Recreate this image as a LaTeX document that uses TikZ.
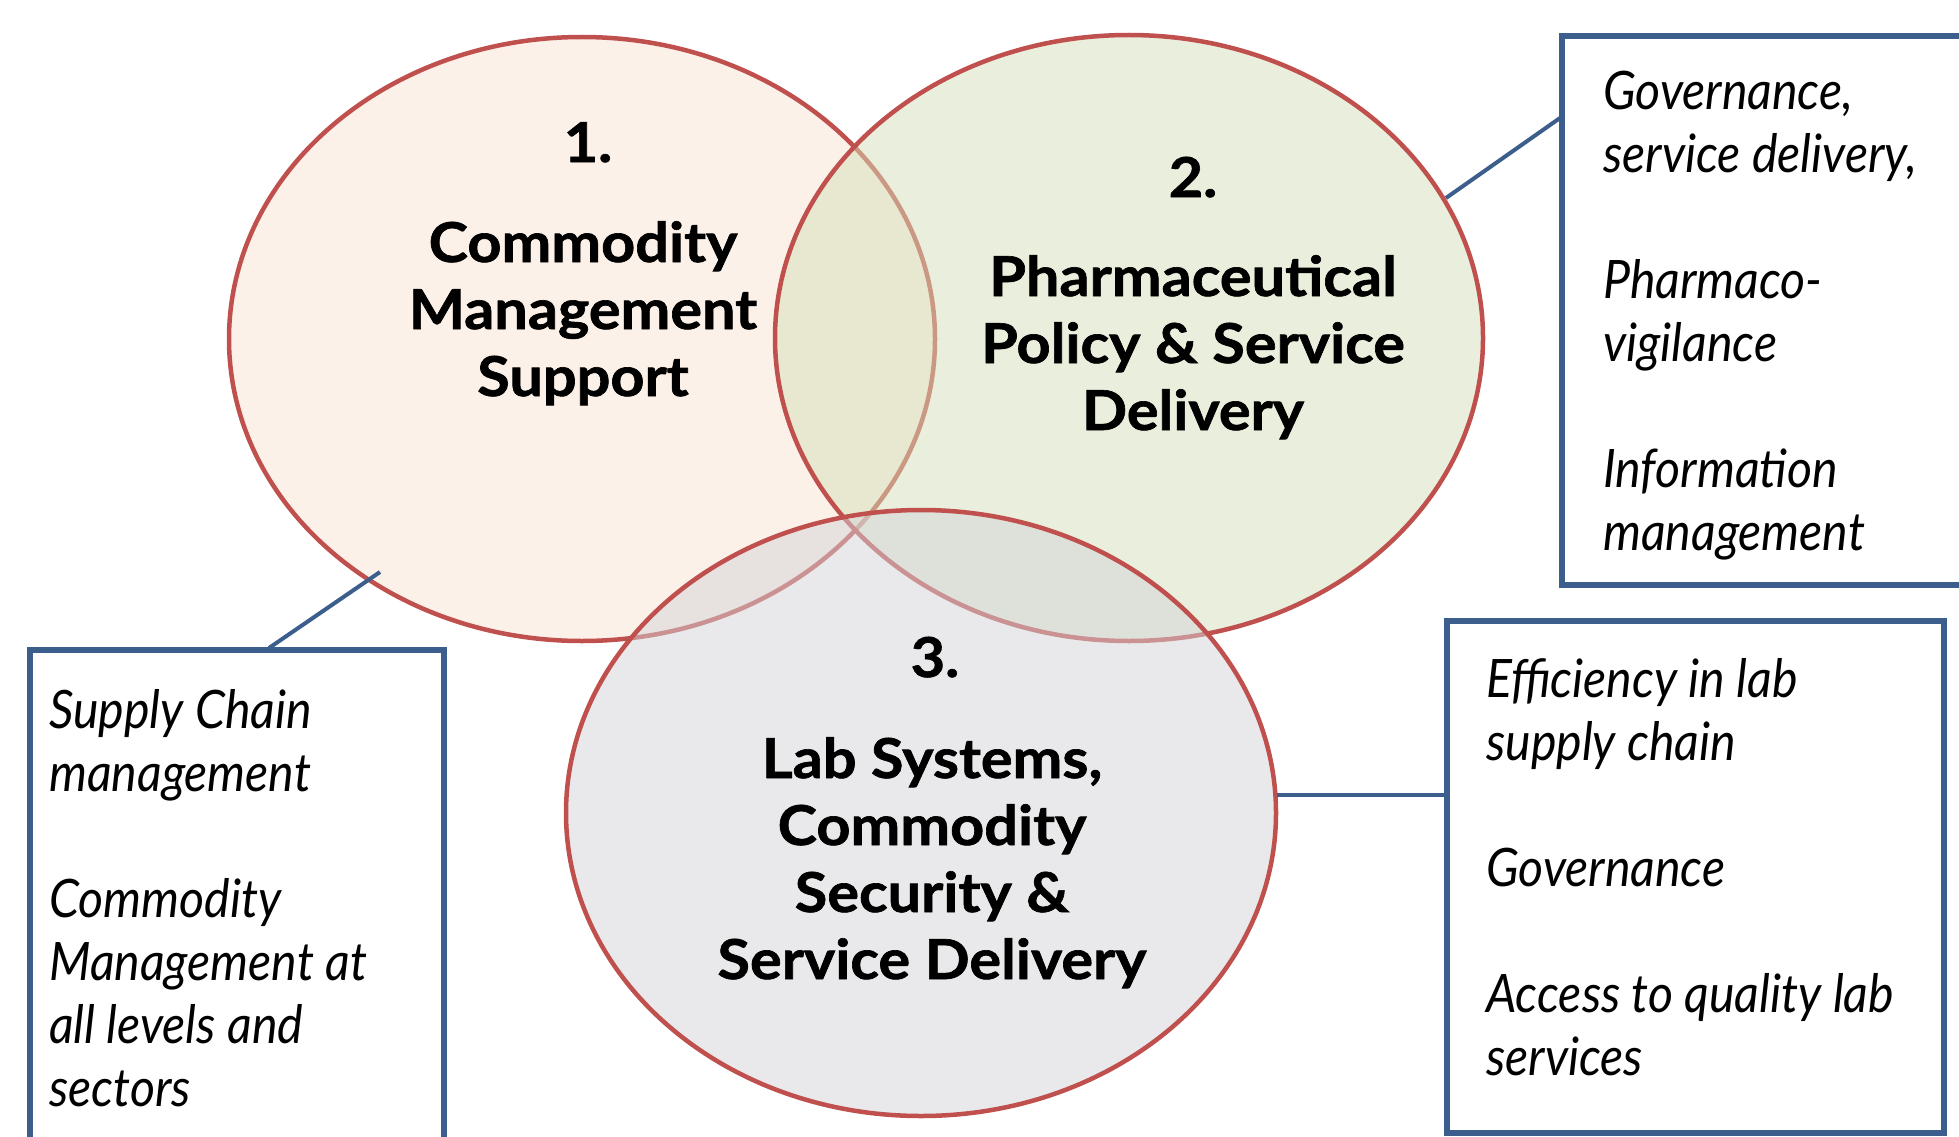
\documentclass[tikz,border=0pt]{standalone}
\usepackage{fontspec}
\setmainfont{Lato}
\newfontfamily\circfont{Lato}[FakeStretch=1.08, FakeBold=1.2]
\newfontfamily\boxfont{Lato}[FakeStretch=0.91]
\definecolor{redline}{HTML}{C0504D}
\definecolor{fillA}{RGB}{251,229,211}
\definecolor{fillB}{RGB}{213,225,186}
\definecolor{fillC}{RGB}{212,212,216}
\definecolor{boxblue}{HTML}{3B5E8C}
\tikzset{
  venn/.style={draw=redline, line width=4.5pt, fill opacity=0.5},
  infobox/.style={draw=boxblue, line width=5.5pt},
  link/.style={draw=boxblue, line width=4pt},
  ctext/.style={anchor=base, inner sep=0pt, font=\circfont\bfseries\fontsize{55}{67}\selectfont},
  btext/.style={anchor=base west, inner sep=0pt, font=\boxfont\itshape\fontsize{53}{63}\selectfont}
}
\begin{document}
\begin{tikzpicture}[x=1pt,y=-1pt]
\clip (0,0) rectangle (1959,1137);
\fill[white] (0,0) rectangle (1959,1137);
% circles
\draw[venn, fill=fillA] (582,339) ellipse [x radius=353, y radius=302];
\draw[venn, fill=fillB] (1129,338) ellipse [x radius=354, y radius=303];
\draw[venn, fill=fillC] (921,813) ellipse [x radius=355, y radius=303];
\node[ctext] (n1) at (588,162) {1.};
\node[ctext] (c1) at (583,262) {\vtop{\baselineskip=67pt\halign{\hfil#\hfil\cr Commodity\cr Management\cr Support\cr}}};
\node[ctext] (n2) at (1193,197) {2.};
\node[ctext] (c2) at (1193,296) {\vtop{\baselineskip=67pt\halign{\hfil#\hfil\cr Pharmaceutical\cr Policy \& Service\cr Delivery\cr}}};
\node[ctext] (n3) at (935,677) {3.};
\node[ctext] (c3) at (932,778) {\vtop{\baselineskip=67pt\halign{\hfil#\hfil\cr Lab Systems,\cr Commodity\cr Security \&\cr Service Delivery\cr}}};
% boxes
\draw[infobox] (1562,36) rectangle (1990,585);
\coordinate (bRc) at (1560,118);
\coordinate (eR) at (1446,198);
\draw[link] (eR) -- (bRc);
\node[btext] (tR) at (1603,110) {\vtop{\baselineskip=63pt\hbox{Governance,}\hbox{service delivery,}\hbox{}\hbox{Pharmaco-}\hbox{vigilance}\hbox{}\hbox{Information}\hbox{management}}};

\draw[infobox] (30,650) rectangle (444,1180);
\coordinate (bLc) at (269,648);
\coordinate (eL) at (380,572);
\draw[link] (eL) -- (bLc);
\node[btext] (tL) at (49,728) {\vtop{\baselineskip=63pt\hbox{Supply Chain}\hbox{management}\hbox{}\hbox{Commodity}\hbox{Management at}\hbox{all levels and}\hbox{sectors}}};

\draw[infobox] (1447,621) rectangle (1944,1133);
\coordinate (bBc) at (1447,795);
\coordinate (eB) at (1277,795);
\draw[link] (eB) -- (bBc);
\node[btext] (tB) at (1486,697) {\vtop{\baselineskip=63pt\hbox{Efficiency in lab}\hbox{supply chain}\hbox{}\hbox{Governance}\hbox{}\hbox{Access to quality lab}\hbox{services}}};
\end{tikzpicture}
\end{document}
